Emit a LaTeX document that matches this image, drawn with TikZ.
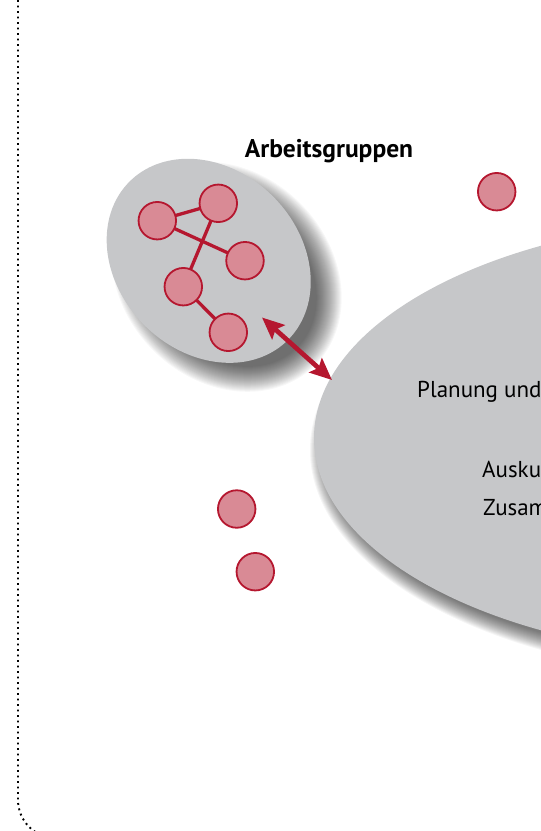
\documentclass[tikz,border=0pt]{standalone}
\usepackage{fontspec}
\setmainfont{PT Sans}
\usetikzlibrary{arrows.meta}
\definecolor{ovalgray}{HTML}{C6C7C9}
\definecolor{dotred}{HTML}{D98A95}
\definecolor{linkred}{HTML}{B5172F}
\begin{document}
\begin{tikzpicture}[x=1pt,y=-1pt,
  member/.style={circle, draw=linkred, fill=dotred, line width=1.8pt,
    minimum size=37.5pt, inner sep=0pt},
  link/.style={draw=linkred, line width=3.3pt},
  lbl/.style={font=\fontsize{23}{28}\selectfont, anchor=base west, inner sep=0pt},
  frame/.style={line width=1.9pt, dash pattern=on 1.9pt off 3.6pt, rounded corners=38pt},
  shadowlayer/.style={fill=black, fill opacity=0.04},
  softlayer/.style={fill=black, fill opacity=0.032},
  exchange/.style={draw=linkred, line width=4.7pt,
    {Stealth[length=22pt, width=19pt, inset=4pt]}-{Stealth[length=22pt, width=19pt, inset=4pt]}}]
\useasboundingbox (0,0) rectangle (541,831);
\begin{scope}
\clip (0,0) rectangle (541,831);
% dotted outer frame
\draw[frame] (18,-60) rectangle (800,838);
% soft shadow of the large oval
\foreach \k in {0,...,17}{
  \pgfmathsetmacro\r{9-\k}
  \fill[shadowlayer] (761,450) ellipse [x radius=442pt+\r pt, y radius=220pt+\r pt];
}
% large oval
\fill[ovalgray] (756,438) ellipse [x radius=442pt, y radius=220pt];
% soft shadow of the tilted oval
\foreach \k in {0,...,25}{
  \pgfmathsetmacro\r{13-\k}
  \fill[softlayer]
    plot[smooth cycle, domain=0:355, samples=72]
    ({226.7 + 0.7071*((112+\r)*cos(\x) - (91+\r)*sin(\x))},
     {276.8 + 0.7071*((112+\r)*cos(\x) + (91+\r)*sin(\x))});
}
% tilted oval of the working group
\fill[ovalgray]
  plot[smooth cycle, domain=0:355, samples=72]
  ({208.7 + 0.7071*(112*cos(\x) - 91*sin(\x))},
   {260.8 + 0.7071*(112*cos(\x) + 91*sin(\x))});
% group members and their links
\coordinate (p1) at (157.3,220.7);
\coordinate (p2) at (218.3,203.3);
\coordinate (p3) at (245,260.7);
\coordinate (p4) at (183.3,286.7);
\coordinate (p5) at (228.3,332.3);
\draw[link] (p1) -- (p2) (p1) -- (p3) (p2) -- (p4) (p4) -- (p5);
\node[member] (m1) at (p1) {};
\node[member] (m2) at (p2) {};
\node[member] (m3) at (p3) {};
\node[member] (m4) at (p4) {};
\node[member] (m5) at (p5) {};
% single members
\node[member] (s1) at (496.7,191.7) {};
\node[member] (s2) at (236.7,509) {};
\node[member] (s3) at (255.3,571.7) {};
% exchange arrow
\coordinate (armA) at (262,317.5);
\coordinate (armB) at (332,380);
\draw[exchange] (armA) -- (armB);
% labels
\node[font=\bfseries\fontsize{25.5}{30}\selectfont, anchor=base, inner sep=0pt]
  (ag) at (329,157) {Arbeitsgruppen};
\node[lbl] (plan) at (417,397) {Planung und};
\node[lbl] (ausk) at (482,477) {Ausku};
\node[lbl] (zus) at (483,515) {Zusam};
\end{scope}
\end{tikzpicture}
\end{document}
